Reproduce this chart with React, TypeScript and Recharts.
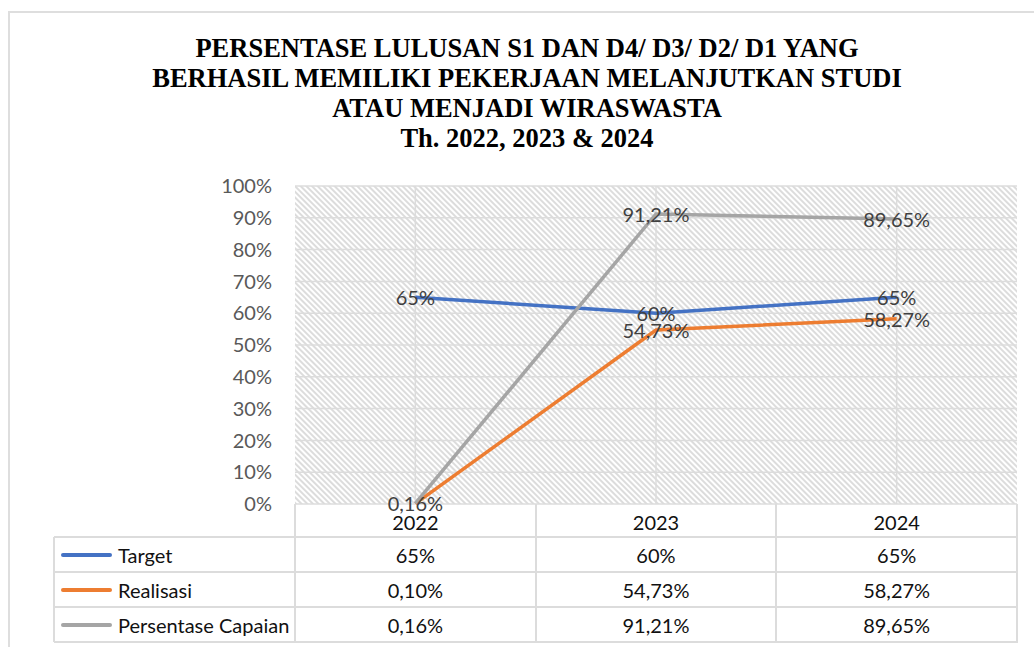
import React from 'react';
import { LineChart, Line, XAxis, YAxis, CartesianGrid, LabelList, ReferenceLine } from 'recharts';

// values in percent
const years = ['2022', '2023', '2024'];
const target = [65, 60, 65];
const realisasi = [0.1, 54.73, 58.27];
const capaian = [0.16, 91.21, 89.65];
const yTicks = [0, 10, 20, 30, 40, 50, 60, 70, 80, 90, 100];

const titleLines = [
  'PERSENTASE LULUSAN S1 DAN D4/ D3/ D2/ D1 YANG',
  'BERHASIL MEMILIKI PEKERJAAN MELANJUTKAN STUDI',
  'ATAU MENJADI WIRASWASTA',
  'Th. 2022, 2023 & 2024',
];

const series = [
  { key: 'target', name: 'Target', values: target, color: '#4472C4', hideLabels: [] as number[] },
  { key: 'realisasi', name: 'Realisasi', values: realisasi, color: '#ED7D31', hideLabels: [0] },
  { key: 'capaian', name: 'Persentase Capaian', values: capaian, color: '#A5A5A5', hideLabels: [] as number[] },
];

const data = years.map((year, i) => ({
  year,
  target: target[i],
  realisasi: realisasi[i],
  capaian: capaian[i],
}));

const fmt = (v: number) =>
  Number.isInteger(v) ? `${v}%` : `${v.toFixed(2).replace('.', ',')}%`;

const FONT = 'Lato, "Noto Sans", sans-serif';
const GRID = '#dcdcdc';

// plot box
const PLOT_L = 295;
const PLOT_R = 1017;
const PLOT_T = 186;
const PLOT_B = 504;

const makeLabel = (hide: number[]) => (props: any) => {
  const { x, y, value, index } = props;
  if (hide.includes(index)) return null;
  return (
    <text x={x} y={y} textAnchor="middle" dominantBaseline="central"
      fontFamily={FONT} fontSize={20} fill="#404040">
      {fmt(value)}
    </text>
  );
};

const DataTable = () => {
  const colW = (PLOT_R - PLOT_L) / years.length;
  const rowTops = [537, 572, 607];
  const rowH = 35;
  const leftX = 54;
  const line = (style: React.CSSProperties, k: string) => (
    <div key={k} style={{ position: 'absolute', background: GRID, ...style }} />
  );
  const lines: React.ReactNode[] = [];
  [537, 572, 607, 642].forEach((y, i) =>
    lines.push(line({ left: leftX, top: y - 1, width: PLOT_R - leftX + 1, height: 2 }, 'h' + i)));
  lines.push(line({ left: leftX - 1, top: 537, width: 2, height: 105 }, 'v0'));
  for (let i = 0; i <= years.length; i++) {
    lines.push(line({ left: PLOT_L + colW * i - 1, top: PLOT_B, width: 2, height: 642 - PLOT_B }, 'v' + (i + 1)));
  }
  const cell: React.CSSProperties = {
    position: 'absolute', display: 'flex', alignItems: 'center', justifyContent: 'center',
    fontFamily: FONT, fontSize: 20, color: '#111',
  };
  return (
    <>
      {lines}
      {years.map((y, i) => (
        <div key={y} style={{ ...cell, left: PLOT_L + colW * i, top: PLOT_B + 1, width: colW, height: 33 }}>{y}</div>
      ))}
      {series.map((s, r) => (
        <React.Fragment key={s.key}>
          <div style={{ ...cell, justifyContent: 'flex-start', left: leftX + 7, top: rowTops[r], height: rowH, width: 240 }}>
            <span style={{ display: 'inline-block', width: 51, height: 4, borderRadius: 2, background: s.color, marginRight: 6 }} />
            {s.name}
          </div>
          {s.values.map((v, i) => (
            <div key={i} style={{ ...cell, left: PLOT_L + colW * i, top: rowTops[r], width: colW, height: rowH }}>{fmt(v)}</div>
          ))}
        </React.Fragment>
      ))}
    </>
  );
};

export default function App() {
  return (
    <div style={{ position: 'fixed', left: 0, top: 0, width: 1034, height: 647, overflow: 'hidden', background: '#fff' }}>
      <div style={{ position: 'absolute', left: 8, top: 11, width: 1100, height: 700, borderLeft: '2px solid #dedede', borderTop: '2px solid #dedede' }} />
      <div style={{
        position: 'absolute', left: 0, top: 33, width: 1054, textAlign: 'center',
        fontFamily: '"Liberation Serif", "Times New Roman", serif', fontWeight: 'bold', fontSize: 26.5, lineHeight: '30px', color: '#000',
      }}>
        {titleLines.map((t) => <div key={t}>{t}</div>)}
      </div>
      <div style={{ position: 'absolute', left: 0, top: 0 }}>
        <LineChart width={1034} height={647} data={data}
          margin={{ top: PLOT_T, right: 1034 - PLOT_R, bottom: 647 - PLOT_B, left: PLOT_L - 60 }}>
          <defs>
            <pattern id="hatch" patternUnits="userSpaceOnUse" width={4} height={4} patternTransform="rotate(-45)">
              <rect width={4} height={4} fill="#ffffff" />
              <rect width={2} height={4} fill="#dcdcdc" />
            </pattern>
          </defs>
          <CartesianGrid vertical={false} stroke={GRID} strokeWidth={1.5} fill="url(#hatch)" fillOpacity={1} />
          <XAxis dataKey="year" scale="band" height={0} tick={false} axisLine={false} tickLine={false} />
          <YAxis width={60} domain={[0, 100]} ticks={yTicks} interval={0} tickFormatter={(v) => `${v}%`}
            axisLine={false} tickLine={false} tickMargin={17}
            tick={{ fontFamily: FONT, fontSize: 20, fill: '#595959' }} />
          {years.map((y) => (
            <ReferenceLine key={y} x={y} position="middle" stroke={GRID} strokeWidth={1.5} />
          ))}
          {series.map((s) => (
            <Line key={s.key} dataKey={s.key} name={s.name} stroke={s.color} strokeWidth={3.5}
              type="linear" dot={false} activeDot={false} isAnimationActive={false}>
              <LabelList dataKey={s.key} content={makeLabel(s.hideLabels)} />
            </Line>
          ))}
        </LineChart>
      </div>
      <DataTable />
    </div>
  );
}
